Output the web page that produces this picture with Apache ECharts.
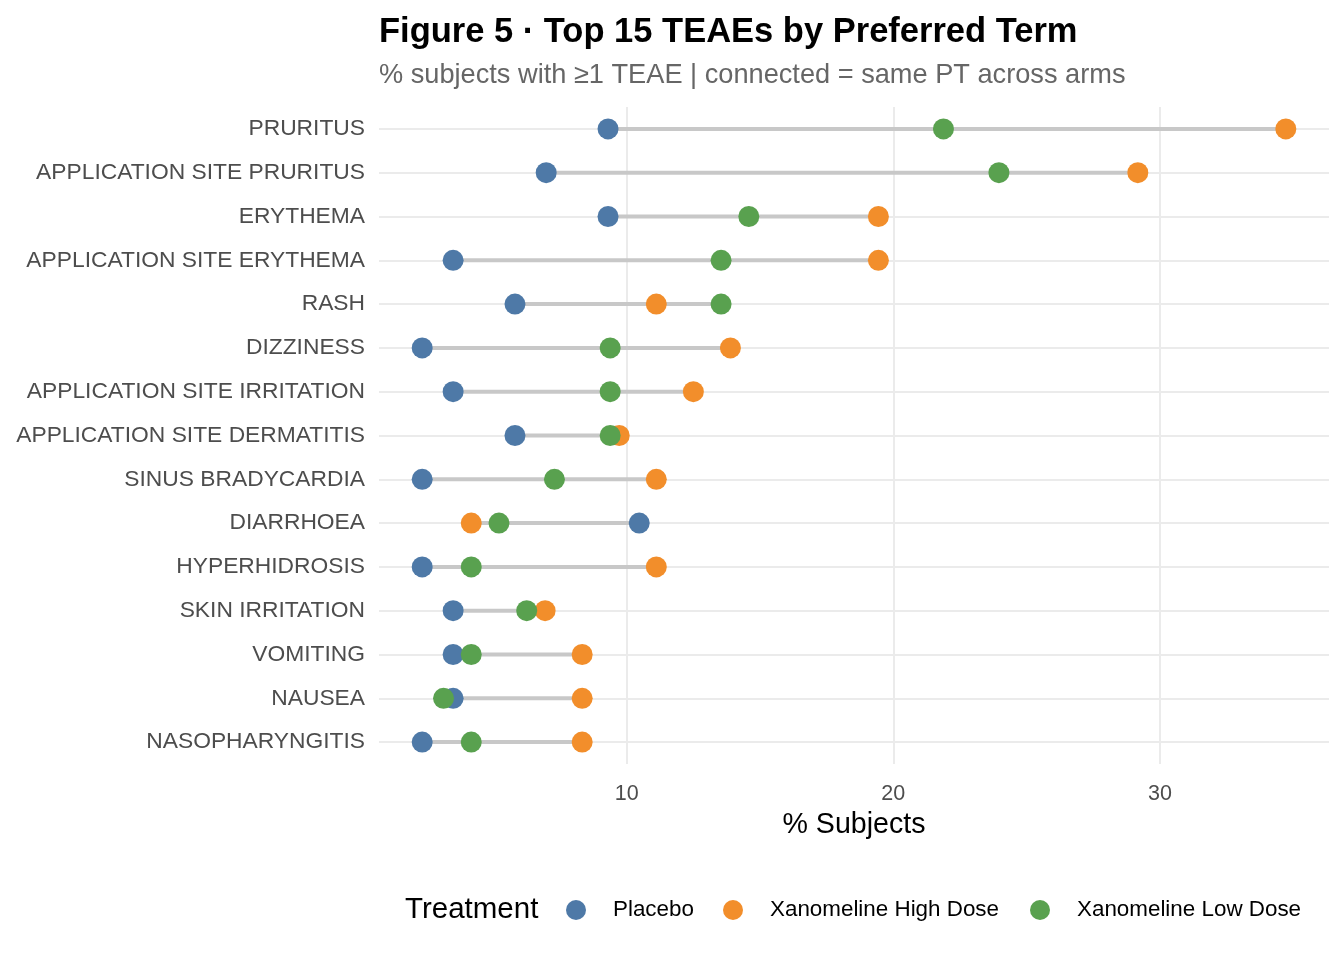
<!DOCTYPE html>
<html>
<head>
<meta charset="utf-8">
<script src="https://cdn.jsdelivr.net/npm/echarts@6/dist/echarts.min.js"></script>
<style>
html,body{margin:0;padding:0;background:#fff;}
#chart{width:1344px;height:960px;}
</style>
</head>
<body>
<div id="chart"></div>
<script>
const categories = ['PRURITUS', 'APPLICATION SITE PRURITUS', 'ERYTHEMA', 'APPLICATION SITE ERYTHEMA', 'RASH', 'DIZZINESS', 'APPLICATION SITE IRRITATION', 'APPLICATION SITE DERMATITIS', 'SINUS BRADYCARDIA', 'DIARRHOEA', 'HYPERHIDROSIS', 'SKIN IRRITATION', 'VOMITING', 'NAUSEA', 'NASOPHARYNGITIS'];
const placebo = [9.30, 6.98, 9.30, 3.49, 5.81, 2.33, 3.49, 5.81, 2.33, 10.47, 2.33, 3.49, 3.49, 3.49, 2.33];
const highDose = [34.72, 29.17, 19.44, 19.44, 11.11, 13.89, 12.50, 9.72, 11.11, 4.17, 11.11, 6.94, 8.33, 8.33, 8.33];
const lowDose = [21.88, 23.96, 14.58, 13.54, 13.54, 9.38, 9.38, 9.38, 7.29, 5.21, 4.17, 6.25, 4.17, 3.13, 4.17];
const xTicks = [10, 20, 30];
const armNames = ['Placebo', 'Xanomeline High Dose', 'Xanomeline Low Dose'];
const armColors = ['#4E79A7', '#F28E2B', '#59A14F'];

const FONT = '"Liberation Sans", Arial, sans-serif';
const chart = echarts.init(document.getElementById('chart'));

const rangeData = categories.map((c, i) => {
  const v = [placebo[i], highDose[i], lowDose[i]];
  return [Math.min.apply(null, v), Math.max.apply(null, v), i];
});
const pts = arr => arr.map((v, i) => [v, categories[i]]);

const legendLefts = [566, 723, 1030];
const legends = armNames.map((n, i) => ({
  data: [n],
  left: legendLefts[i], top: 899,
  icon: 'circle',
  itemWidth: 20, itemHeight: 20, itemGap: 0,
  padding: 0,
  textStyle: { fontFamily: FONT, fontSize: 22.4, color: '#000000', padding: [2, 0, 0, 22] }
}));

const option = {
  backgroundColor: '#ffffff',
  animation: false,
  textStyle: { fontFamily: FONT },
  title: [
    { text: 'Figure 5 · Top 15 TEAEs by Preferred Term', left: 379, top: 15, padding: 0,
      textStyle: { fontFamily: FONT, fontSize: 34.5, fontWeight: 'bold', color: '#000000' } },
    { text: '% subjects with ≥1 TEAE | connected = same PT across arms', left: 379, top: 62, padding: 0,
      textStyle: { fontFamily: FONT, fontSize: 27.2, fontWeight: 'normal', color: '#666666' } },
    { text: 'Treatment', left: 405, top: 895, padding: 0,
      textStyle: { fontFamily: FONT, fontSize: 29.5, fontWeight: 'normal', color: '#000000' } }
  ],
  legend: legends,
  grid: { left: 379, right: 15, top: 107, bottom: 196, containLabel: false },
  xAxis: {
    type: 'value', min: 0.71, max: 36.34,
    name: '% Subjects', nameLocation: 'middle', nameGap: 47,
    nameTextStyle: { fontFamily: FONT, fontSize: 28.6, color: '#000000' },
    axisLine: { show: false }, axisTick: { show: false }, splitLine: { show: false },
    axisLabel: { customValues: xTicks, fontFamily: FONT, fontSize: 21.5, color: '#4d4d4d', margin: 19 }
  },
  yAxis: {
    type: 'category', data: categories, inverse: true,
    axisLine: { show: false }, axisTick: { show: false }, splitLine: { show: false },
    axisLabel: { fontFamily: FONT, fontSize: 22.8, color: '#4d4d4d', margin: 14, padding: [4, 0, 0, 0] }
  },
  series: [
    {
      type: 'scatter', data: [], z: 1, zlevel: 0, silent: true,
      markLine: {
        silent: true, symbol: 'none', label: { show: false }, animation: false,
        lineStyle: { color: '#ebebeb', width: 2, type: 'solid' },
        data: xTicks.map(t => ({ xAxis: t })).concat(categories.map((c, i) => ({ yAxis: i })))
      }
    },
    {
      type: 'custom', z: 2, zlevel: 1, silent: true,
      data: rangeData,
      encode: { x: [0, 1], y: 2 },
      renderItem: function (params, api) {
        const p1 = api.coord([api.value(0), api.value(2)]);
        const p2 = api.coord([api.value(1), api.value(2)]);
        return { type: 'line', shape: { x1: p1[0], y1: p1[1], x2: p2[0], y2: p2[1] },
          style: { stroke: '#c8c8c8', lineWidth: 4 } };
      }
    },
    { name: armNames[0], type: 'scatter', z: 3, zlevel: 1, symbolSize: 21, data: pts(placebo), itemStyle: { color: armColors[0], opacity: 1 } },
    { name: armNames[1], type: 'scatter', z: 4, zlevel: 1, symbolSize: 21, data: pts(highDose), itemStyle: { color: armColors[1], opacity: 1 } },
    { name: armNames[2], type: 'scatter', z: 5, zlevel: 1, symbolSize: 21, data: pts(lowDose), itemStyle: { color: armColors[2], opacity: 1 } }
  ]
};
chart.setOption(option);
</script>
</body>
</html>
